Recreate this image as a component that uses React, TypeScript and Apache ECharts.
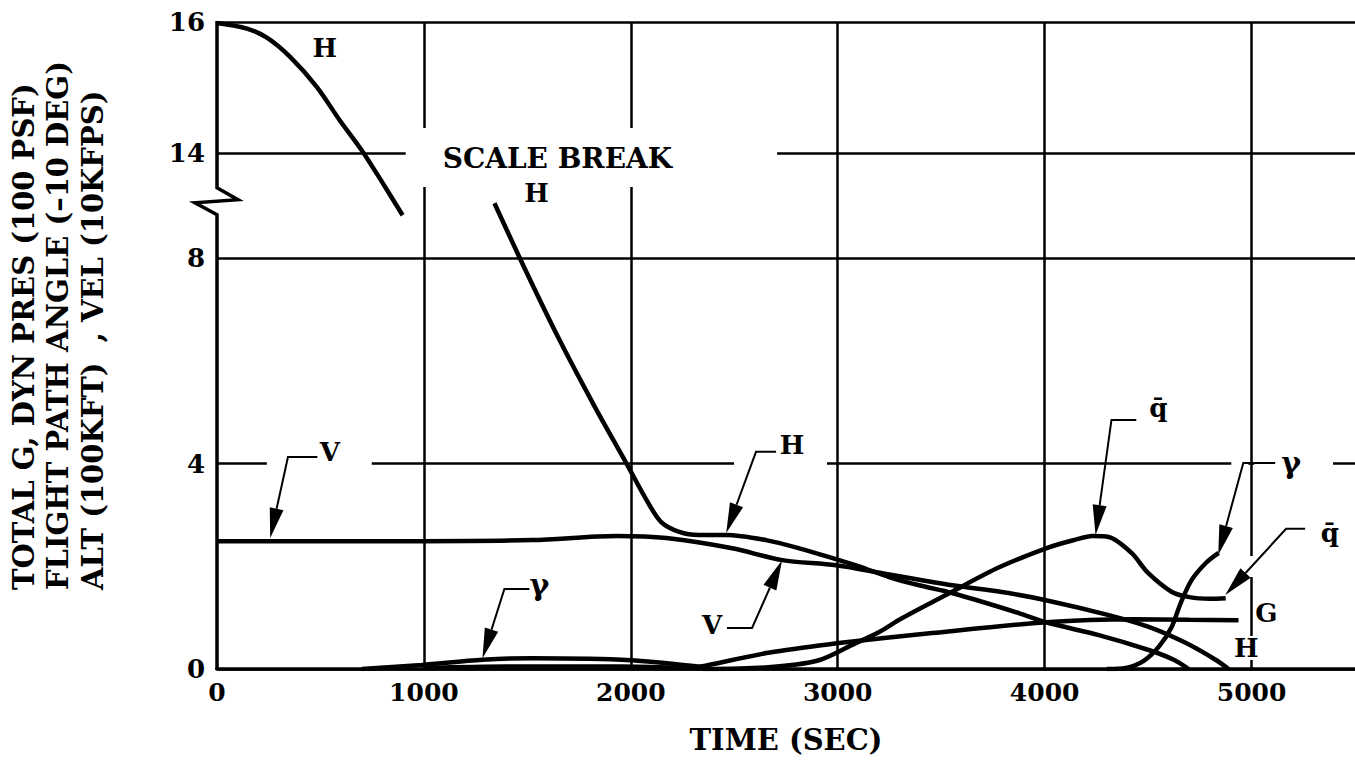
import { useEffect, useRef } from 'react';
import * as echarts from 'echarts';

// ---------- axes ----------
const xLabelValues = [0, 1000, 2000, 3000, 4000, 5000];
const xGridValues = [1000, 2000, 3000, 4000, 5000];
const lowerYValues = [0, 4, 8]; // below the scale break
const upperYValues = [14, 16]; // above the scale break

// ---------- series (time s, value) ----------
// altitude H (100 kft) drawn against the upper scale
const altitudeUpper = [[0, 15.985], [145, 15.9], [241, 15.76], [352, 15.47], [482, 15.01], [593, 14.5], [704, 14.02], [801, 13.54], [897, 13.05]];
// altitude H below the break
const altitudeLower = [[1341, 9.07], [1486, 7.81], [1655, 6.41], [1824, 5.12], [1978, 4.01], [2079, 3.27], [2147, 2.86], [2234, 2.67], [2331, 2.61], [2461, 2.61], [2654, 2.51], [2814, 2.35], [3007, 2.12], [3103, 2.0], [3248, 1.79], [3393, 1.63], [3552, 1.48], [3875, 1.09], [4006, 0.91], [4262, 0.66], [4503, 0.37], [4624, 0.18], [4696, 0]];
// velocity V (10 kfps)
const velocity = [[0, 2.49], [500, 2.49], [990, 2.49], [1525, 2.51], [1931, 2.59], [2172, 2.55], [2490, 2.35], [2732, 2.12], [2992, 2.02], [3263, 1.83], [3552, 1.63], [3793, 1.5], [4006, 1.34], [4310, 1.05], [4503, 0.82], [4681, 0.51], [4826, 0.18], [4889, 0]];
// flight path angle gamma (-10 deg)
const gammaEarly = [[700, 0], [990, 0.08], [1284, 0.18], [1525, 0.21], [1800, 0.2], [2000, 0.17], [2150, 0.12], [2250, 0.08], [2346, 0.04]];
const gammaLate = [[4300, 0], [4392, 0.02], [4479, 0.16], [4551, 0.43], [4614, 0.82], [4657, 1.28], [4710, 1.73], [4778, 2.06], [4841, 2.26]];
// dynamic pressure q-bar (100 psf)
const dynPressure = [[2350, 0], [2650, 0.03], [2900, 0.16], [3070, 0.47], [3200, 0.72], [3310, 0.99], [3550, 1.5], [3780, 1.98], [4020, 2.37], [4150, 2.52], [4230, 2.59], [4310, 2.57], [4420, 2.26], [4500, 1.87], [4615, 1.5], [4700, 1.4], [4800, 1.37], [4875, 1.38]];
// total G
const totalG = [[1000, 0.02], [1400, 0.05], [1800, 0.05], [2100, 0.04], [2300, 0.02], [2340, 0.05], [2655, 0.31], [2751, 0.37], [3016, 0.51], [3456, 0.7], [4006, 0.91], [4421, 0.97], [4700, 0.96], [4937, 0.95]];

// ---------- annotations (data coordinates; axis = y axis index) ----------
const annotations = [
  { text: 'H', at: [521, 15.6], axis: 1 },
  { text: 'SCALE BREAK', at: [1645, 13.92], axis: 1, size: 28 },
  { text: 'H', at: [1544, 9.27], axis: 0 },
  { text: 'V', at: [545, 4.23], axis: 0, leader: [[485, 4.13], [343, 4.13], [257, 2.55]] },
  { text: 'γ', at: [1558, 1.64], axis: 0, size: 30, leader: [[1510, 1.56], [1389, 1.56], [1283, 0.21]] },
  { text: 'H', at: [2779, 4.36], axis: 0, leader: [[2702, 4.23], [2605, 4.23], [2461, 2.65]] },
  { text: 'V', at: [2393, 0.86], axis: 0, leader: [[2465, 0.8], [2586, 0.8], [2731, 2.12]] },
  { text: 'q̄', at: [4550, 5.08], axis: 0, leader: [[4443, 4.85], [4323, 4.85], [4246, 2.61]] },
  { text: 'γ', at: [5191, 4.03], axis: 0, size: 30, leader: [[5114, 4.01], [4960, 4.01], [4839, 2.22]] },
  { text: 'q̄', at: [5379, 2.65], axis: 0, leader: [[5259, 2.73], [5167, 2.73], [4873, 1.44]] },
  { text: 'G', at: [5071, 1.09], axis: 0 },
  { text: 'H', at: [4974, 0.41], axis: 0, clear: true },
];

// white gaps in the grid lines behind labels: [t0, v0, t1, v1, axis]
const gridGaps = [
  [912, 14.38, 2707, 13.48, 1],
  [241, 3.9, 748, 4.1, 0],
  [2499, 3.9, 2948, 4.1, 0],
  [4902, 3.9, 4984, 4.1, 0],
  [5013, 3.9, 5394, 4.1, 0],
  [4985, 1.79, 5015, 2.2, 0],
];
const breakMarkAt = 9.1;

const yTitleLines = ['TOTAL G, DYN PRES (100 PSF)', 'FLIGHT PATH ANGLE (–10 DEG)', 'ALT (100KFT)  , VEL (10KFPS)'];

const FONT = '"DejaVu Serif", serif';

function lineSeries(name: string, data: number[][], yAxisIndex = 0) {
  return {
    type: 'line',
    name,
    data,
    yAxisIndex,
    showSymbol: false,
    symbol: 'none',
    smooth: 0.3,
    z: 3,
    lineStyle: { color: '#000', width: 4.5 },
    silent: true,
  };
}

export default function App() {
  const ref = useRef<HTMLDivElement>(null);
  useEffect(() => {
    const chart = echarts.init(ref.current!, null, { renderer: 'svg' });
    const gridLine = { show: true, lineStyle: { color: '#000', width: 2.5, type: 'solid' } };
    const yLabel = { fontFamily: FONT, fontWeight: 'bold', fontSize: 26, color: '#000', margin: 12 };
    chart.setOption({
      animation: false,
      backgroundColor: '#fff',
      grid: { left: 217, top: 22, width: 1140, height: 647, containLabel: false },
      xAxis: {
        type: 'value', min: 0, max: 5500,
        name: 'TIME (SEC)', nameLocation: 'middle', nameGap: 56,
        nameTextStyle: { fontFamily: FONT, fontWeight: 'bold', fontSize: 29, color: '#000' },
        axisLine: { show: true, lineStyle: { color: '#000', width: 3.5 } },
        axisTick: { show: false, customValues: xGridValues },
        axisLabel: {
          customValues: xLabelValues, formatter: (v: number) => String(v),
          fontFamily: FONT, fontWeight: 'bold', fontSize: 25, color: '#000', margin: 11,
        },
        splitLine: gridLine,
      },
      yAxis: [
        {
          type: 'value', min: 0, max: 12.6, position: 'left',
          axisLine: { show: false },
          axisTick: { show: false, customValues: lowerYValues },
          axisLabel: { ...yLabel, customValues: lowerYValues, formatter: (v: number) => String(v) },
          splitLine: gridLine,
        },
        {
          type: 'value', min: 6.122, max: 16, position: 'left',
          axisLine: { show: false },
          axisTick: { show: false, customValues: upperYValues },
          axisLabel: { ...yLabel, customValues: upperYValues, formatter: (v: number) => String(v) },
          splitLine: gridLine,
        },
      ],
      series: [
        lineSeries('H (upper)', altitudeUpper, 1),
        lineSeries('H', altitudeLower),
        lineSeries('V', velocity),
        lineSeries('γ', gammaEarly),
        lineSeries('γ ', gammaLate),
        lineSeries('q̄', dynPressure),
        lineSeries('G', totalG),
      ],
    });

    const toPx = (p: number[], axis = 0) =>
      chart.convertToPixel({ xAxisIndex: 0, yAxisIndex: axis }, p) as number[];

    const els: any[] = [];
    gridGaps.forEach(([t0, v0, t1, v1, ax]) => {
      const a = toPx([t0, v0], ax);
      const b = toPx([t1, v1], ax);
      els.push({
        type: 'rect', z: 1, silent: true,
        shape: { x: Math.min(a[0], b[0]), y: Math.min(a[1], b[1]), width: Math.abs(b[0] - a[0]), height: Math.abs(b[1] - a[1]) },
        style: { fill: '#fff' },
      });
    });
    // left axis with scale-break zigzag
    const top = toPx([0, 16], 1);
    const bottom = toPx([0, 0], 0);
    const mid = toPx([0, breakMarkAt], 0);
    const x0 = top[0];
    els.push({
      type: 'polyline', z: 6, silent: true,
      shape: {
        points: [
          [x0, top[1] - 1], [x0, mid[1] - 14], [x0 + 21, mid[1] - 2],
          [x0 - 22, mid[1] + 1], [x0, mid[1] + 13], [x0, bottom[1] + 1],
        ],
      },
      style: { stroke: '#000', lineWidth: 3.5, fill: null, lineJoin: 'miter' },
    });
    annotations.forEach((a: any) => {
      const p = toPx(a.at, a.axis);
      if (a.clear) {
        els.push({ type: 'rect', z: 1, silent: true, shape: { x: p[0] - 12, y: p[1] - 12, width: 24, height: 24 }, style: { fill: '#fff' } });
      }
      els.push({
        type: 'text', z: 10, silent: true, x: p[0], y: p[1],
        style: {
          text: a.text, font: `bold ${a.size || 26}px ${FONT}`, fill: '#000',
          textAlign: 'center', textVerticalAlign: 'middle', align: 'center', verticalAlign: 'middle',
        },
      });
      if (a.leader) {
        const pts = a.leader.map((q: number[]) => toPx(q, a.axis));
        const tip = pts[pts.length - 1];
        const prev = pts[pts.length - 2];
        const dx = tip[0] - prev[0];
        const dy = tip[1] - prev[1];
        const len = Math.hypot(dx, dy);
        const ux = dx / len, uy = dy / len;
        const L = 30, W = 7;
        const bx = tip[0] - ux * L, by = tip[1] - uy * L;
        els.push({
          type: 'polyline', z: 10, silent: true,
          shape: { points: [...pts.slice(0, -1), [bx, by]] },
          style: { stroke: '#000', lineWidth: 2, fill: null },
        });
        els.push({
          type: 'polygon', z: 10, silent: true,
          shape: { points: [tip, [bx - uy * W, by + ux * W], [bx + uy * W, by - ux * W]] },
          style: { fill: '#000' },
        });
      }
    });
    const titleX = [24, 58, 93];
    yTitleLines.forEach((t, i) => {
      els.push({
        type: 'text', z: 10, silent: true, x: titleX[i], y: 590, rotation: Math.PI / 2,
        style: {
          text: t, font: `bold 29px ${FONT}`, fill: '#000',
          textAlign: 'left', textVerticalAlign: 'middle', align: 'left', verticalAlign: 'middle',
        },
      });
    });
    chart.setOption({ graphic: { elements: els } });
    return () => chart.dispose();
  }, []);
  return <div ref={ref} style={{ position: 'absolute', left: 0, top: 0, width: 1355, height: 779 }} />;
}
